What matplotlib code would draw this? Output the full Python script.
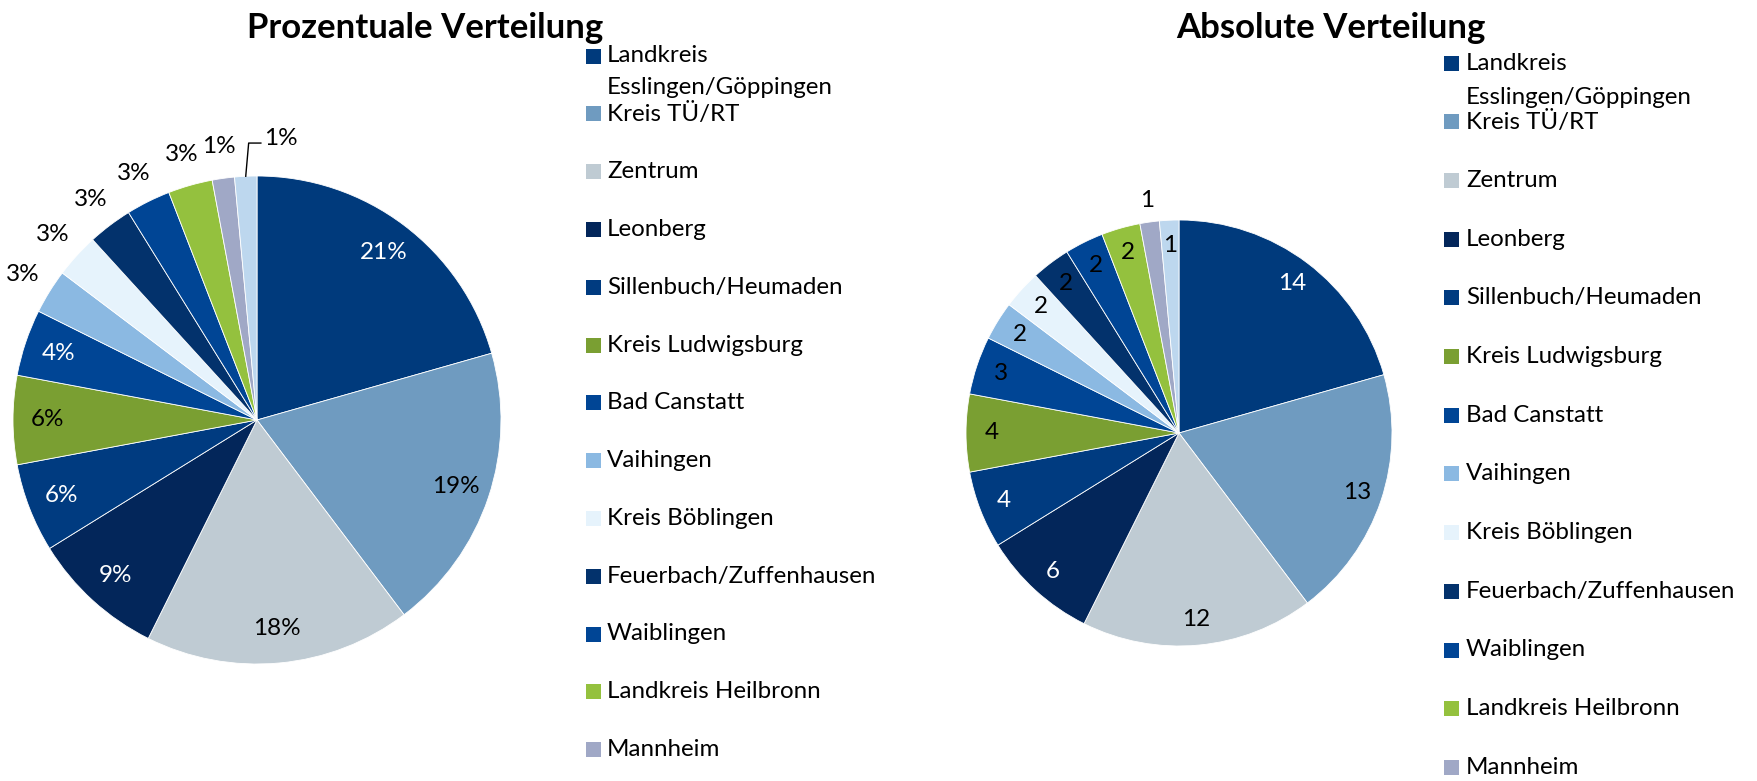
import numpy as np
import matplotlib
matplotlib.use("Agg")
import matplotlib.pyplot as plt
from matplotlib.patches import Rectangle
import textwrap

plt.rcParams['font.family'] = ['Lato', 'DejaVu Sans']

# ---------------- data ----------------
categories = [
    "Landkreis Esslingen/Göppingen", "Kreis TÜ/RT", "Zentrum", "Leonberg",
    "Sillenbuch/Heumaden", "Kreis Ludwigsburg", "Bad Canstatt", "Vaihingen",
    "Kreis Böblingen", "Feuerbach/Zuffenhausen", "Waiblingen",
    "Landkreis Heilbronn", "Mannheim", "Sonstige",
]
counts = [14, 13, 12, 6, 4, 4, 3, 2, 2, 2, 2, 2, 1, 1]
colors = [
    "#003A7C", "#6F9BC0", "#BFCBD3", "#03265A", "#003B80", "#7A9F32",
    "#004595", "#8BB9E2", "#E6F3FC", "#03326C", "#004595", "#94C13E",
    "#A0A8C6", "#BDD7EE",
]
titles = ["Prozentuale Verteilung", "Absolute Verteilung"]

# label style per chart
left_white = {0, 3, 4, 6}
right_white = {0, 3, 4}
left_outside = {7, 8, 9, 10, 11, 12}
left_leader = {13}
right_outside = {12}

W, H = 1757, 781
DPI = 100
fig = plt.figure(figsize=(W / DPI, H / DPI), dpi=DPI)
fig.patch.set_facecolor("white")

def px_axes(cx, cy, r):
    return fig.add_axes([(cx - r) / W, (H - cy - r) / H, 2 * r / W, 2 * r / H])

total = sum(counts)
LBL = 17.5

def draw_pie(ax, values, kind):
    wedges, _ = ax.pie(values, colors=colors, startangle=90, counterclock=False,
                       radius=1.0, wedgeprops=dict(edgecolor="white", linewidth=0.6))
    ax.set_xlim(-1, 1)
    ax.set_ylim(-1, 1)
    ax.set_aspect("equal")
    ax.axis("off")
    for i, w in enumerate(wedges):
        mid = np.deg2rad((w.theta1 + w.theta2) / 2)
        if kind == "pct":
            txt = f"{round(100 * values[i] / total):d}%"
            white = i in left_white
            if i in left_leader:
                ex, ey = np.cos(mid), np.sin(mid)
                elb_x, elb_y = ex + 0.012, 1.135
                ax.plot([ex, elb_x, elb_x + 0.05], [ey, elb_y, elb_y],
                        color="black", lw=1.0, clip_on=False)
                ax.text(elb_x + 0.065, elb_y + 0.02, txt, ha="left", va="center",
                        fontsize=LBL, color="black")
                continue
            rr = 1.13 if i in left_outside else 0.86
        else:
            txt = f"{values[i]:d}"
            white = i in right_white
            rr = 1.10 if i in right_outside else 0.88
        ax.text(rr * np.cos(mid), rr * np.sin(mid), txt, ha="center", va="center",
                fontsize=LBL, color="white" if white else "black")

def draw_legend(x_box, x_text, y_first, step, line2):
    for i, (lab, col) in enumerate(zip(categories, colors)):
        y = y_first + step * i
        if y + 8 > H:
            break
        fig.patches.append(Rectangle((x_box / W, 1 - (y + 7.5) / H), 15 / W, 15 / H,
                                     transform=fig.transFigure, facecolor=col,
                                     edgecolor="none"))
        for k, line in enumerate(textwrap.wrap(lab, 24)):
            fig.text(x_text / W, 1 - (y + line2 * k) / H, line, ha="left",
                     va="center", fontsize=17.4)

ax1 = px_axes(257, 420, 244)
draw_pie(ax1, counts, "pct")
ax2 = px_axes(1179, 433, 213)
draw_pie(ax2, counts, "abs")

fig.text(425 / W, 1 - 38 / H, titles[0], ha="center", va="baseline",
         fontsize=25, fontweight="bold")
fig.text(1331 / W, 1 - 38 / H, titles[1], ha="center", va="baseline",
         fontsize=25, fontweight="bold")

draw_legend(586, 607, 56, 57.8, 32)
draw_legend(1444, 1466, 63, 58.7, 34)

fig.savefig("out.png", dpi=DPI, facecolor="white")
